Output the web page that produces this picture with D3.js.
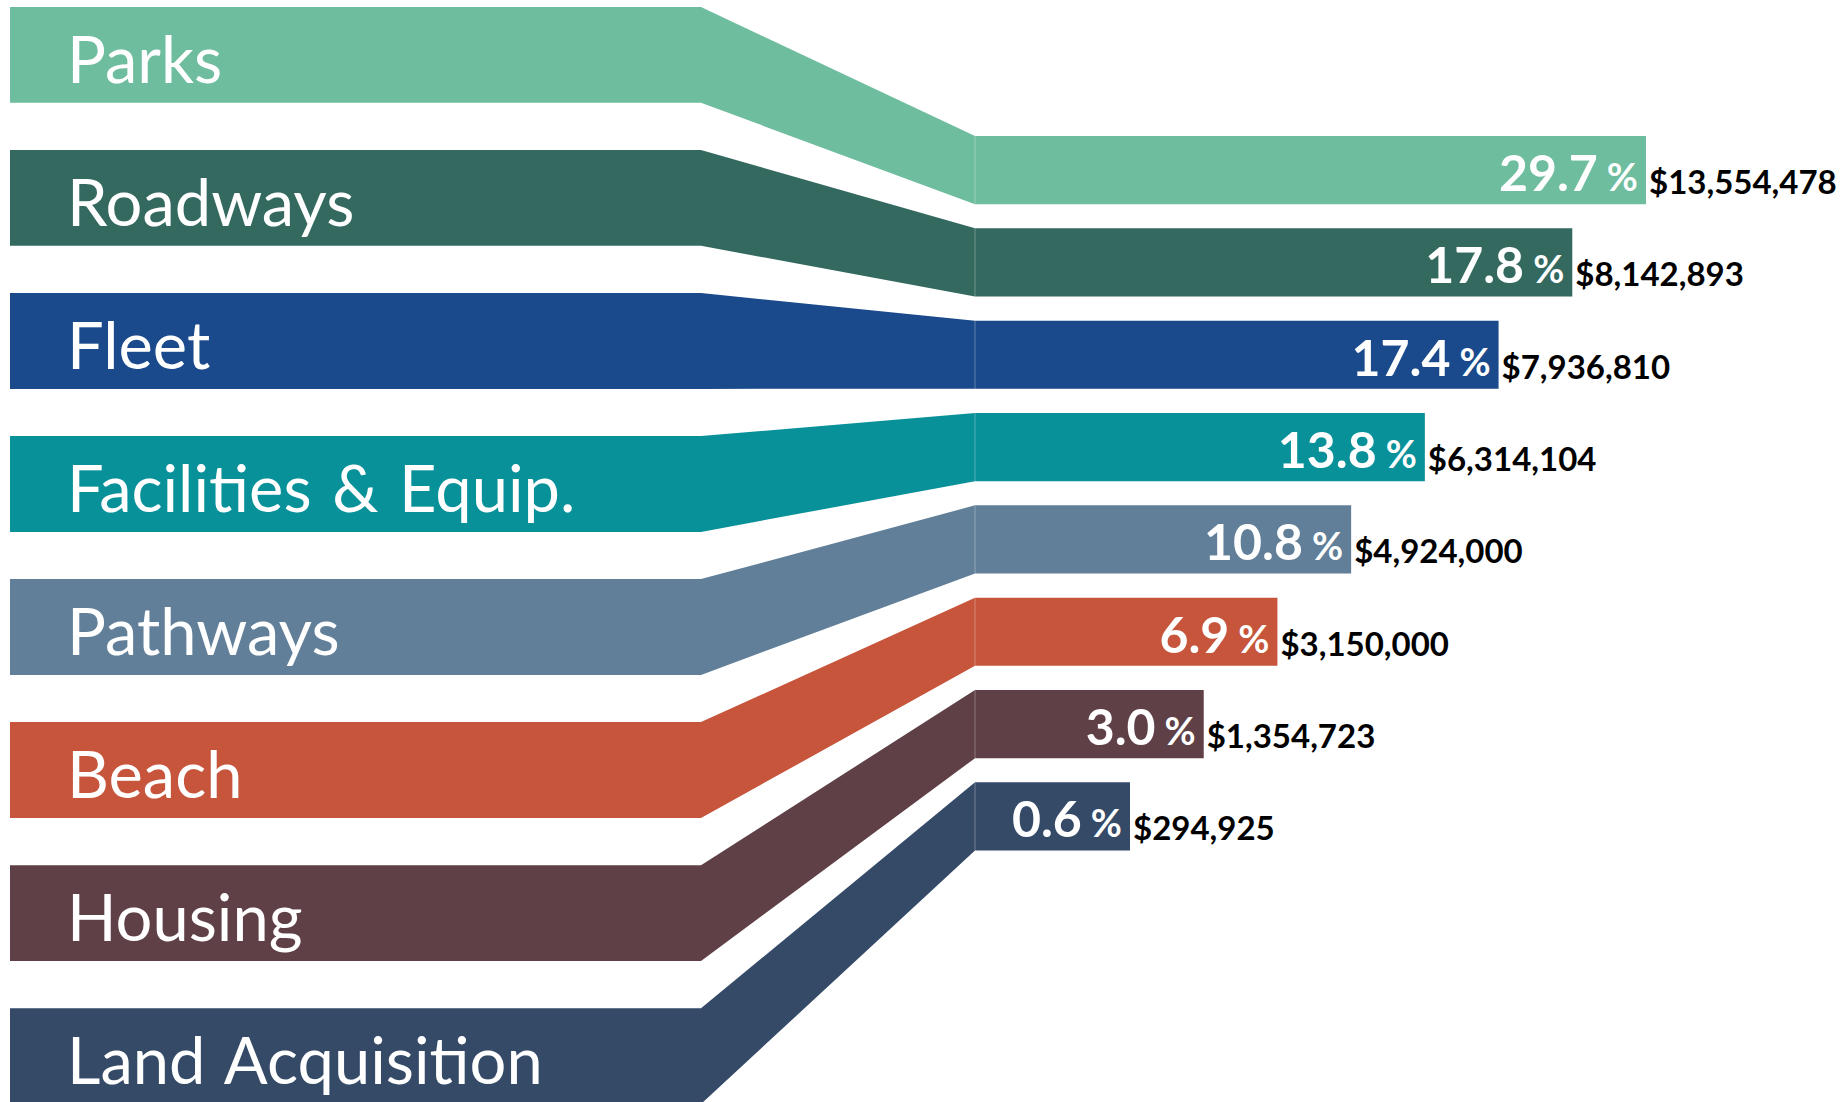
<!DOCTYPE html>
<html>
<head>
<meta charset="utf-8">
<script src="https://cdn.jsdelivr.net/npm/d3@7"></script>
<style>
  html, body { margin: 0; padding: 0; background: #ffffff; }
  svg { display: block; }
</style>
</head>
<body>
<svg id="chart" width="1842" height="1102"></svg>
<script>
const categories = ["Parks", "Roadways", "Fleet", "Facilities & Equip.", "Pathways", "Beach", "Housing", "Land Acquisition"];
const percents = [29.7, 17.8, 17.4, 13.8, 10.8, 6.9, 3.0, 0.6];
const amounts = [13554478, 8142893, 7936810, 6314104, 4924000, 3150000, 1354723, 294925];
const colors = ["#6FBD9F", "#33695F", "#1A4A8B", "#09919A", "#617F98", "#C6553C", "#5E4046", "#344A67"];

const data = categories.map((c, i) => ({ cat: c, pct: percents[i], amt: amounts[i], color: colors[i], rank: i }));

const svg = d3.select("#chart");

// Left label bands
const yLeft = d3.scaleBand().domain(categories).range([7, 1104]).paddingInner(0.33).paddingOuter(0);
// Right bars
const yRight = d3.scaleBand().domain(categories).range([136, 850.5]).paddingInner(0.262).paddingOuter(0);
// Horizontal layout
const xLeft0 = 10, xFlat = 701, xBar = 975;
// Bar length follows the ranking of the categories
const barLen = d3.scaleLinear().domain([0, categories.length - 1]).range([671, 155]);

const fmtPct = d3.format(".1f");
const fmtAmt = d3.format("$,");

const g = svg.append("g");
const groups = g.selectAll("g.item").data(data).join("g").attr("class", "item");

groups.append("path")
  .attr("fill", d => d.color)
  .attr("d", d => {
    const t = yLeft(d.cat), b = t + yLeft.bandwidth();
    const rt = yRight(d.cat), rb = rt + yRight.bandwidth();
    const xe = xBar + barLen(d.rank);
    const pts = [[xLeft0, t], [xFlat, t], [xBar, rt], [xe, rt], [xe, rb], [xBar, rb], [xFlat, b], [xLeft0, b]];
    return d3.line()(pts) + "Z";
  });

// faint seam where the connector meets the bar
groups.append("line")
  .attr("x1", xBar).attr("x2", xBar)
  .attr("y1", d => yRight(d.cat)).attr("y2", d => yRight(d.cat) + yRight.bandwidth())
  .attr("stroke", "#ffffff").attr("stroke-opacity", 0.3).attr("stroke-width", 1);

// category labels
groups.append("text")
  .attr("x", 67)
  .attr("y", d => yLeft(d.cat) + 76)
  .attr("fill", "#ffffff")
  .style("font-family", "Lato, 'Open Sans', sans-serif")
  .style("font-size", "65px")
  .style("word-spacing", "4px")
  .text(d => d.cat);

// percentage labels
const pt = groups.append("text")
  .attr("x", d => xBar + barLen(d.rank) - 8)
  .attr("y", d => yRight(d.cat) + 55)
  .attr("text-anchor", "end")
  .attr("fill", "#ffffff")
  .style("font-family", "Lato, 'Open Sans', sans-serif")
  .style("font-weight", "700")
  .style("font-size", "50px");
pt.append("tspan").text(d => fmtPct(d.pct));
pt.append("tspan").attr("dx", 9).style("font-size", "38px").text("%");

// amount labels
groups.append("text")
  .attr("x", d => xBar + barLen(d.rank) + 3)
  .attr("y", d => yRight(d.cat) + 58)
  .attr("fill", "#000000")
  .style("font-family", "Lato, 'Open Sans', sans-serif")
  .style("font-weight", "700")
  .style("font-size", "33px")
  .text(d => fmtAmt(d.amt));
</script>
</body>
</html>
